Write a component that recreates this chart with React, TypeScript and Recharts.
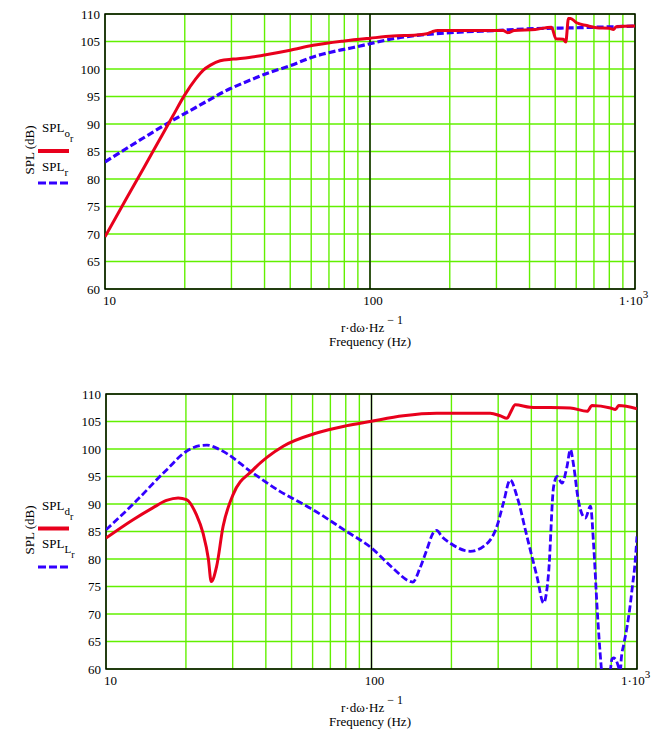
import React from 'react';
import {
  LineChart,
  Line,
  XAxis,
  YAxis,
  CartesianGrid,
  ReferenceLine,
  ReferenceArea,
  Legend,
} from 'recharts';

const SERIF = '"Liberation Serif", "DejaVu Serif", serif';
const RED = '#e8001c';
const BLUE = '#3300ff';
const GRID = '#62f000';

const FREQ_TICKS = [10, 20, 30, 40, 50, 60, 70, 80, 90, 100, 200, 300, 400, 500, 600, 700, 800, 900, 1000];
const SPL_TICKS = [60, 65, 70, 75, 80, 85, 90, 95, 100, 105, 110];

// top panel: SPL_o (red) and SPL_r (blue)
const splOFreq = [10, 12, 14, 16, 18, 20, 22, 23.5, 25, 27.2, 30.4, 35, 39.5, 50, 61, 80, 100, 122, 150, 164, 172, 180, 250, 318, 331, 350, 420, 484, 503, 536, 548, 561, 571, 602, 657, 716, 800, 829, 850, 1000];
const splOValues = [69.5, 76.3, 82.0, 87.0, 91.4, 95.3, 98.2, 99.8, 100.7, 101.5, 101.8, 102.1, 102.5, 103.4, 104.3, 105.1, 105.6, 106.0, 106.2, 106.4, 106.8, 107.0, 107.0, 107.0, 106.6, 107.0, 107.2, 107.6, 105.5, 105.4, 104.9, 109.2, 109.2, 108.4, 107.9, 107.5, 107.4, 107.2, 107.7, 107.8];

const splRFreq = [10, 12, 14, 17.6, 22, 29.6, 35, 40.8, 50, 61, 75, 86.5, 100, 122, 150, 218, 300, 390, 600, 1000];
const splRValues = [83.1, 85.5, 87.5, 90.4, 93.0, 96.4, 97.9, 99.2, 100.6, 102.2, 103.3, 103.9, 104.6, 105.5, 106.1, 106.7, 107.0, 107.3, 107.5, 107.8];

// bottom panel: SPL_d (red) and SPL_L (blue)
const splDFreq = [10, 12.6, 15, 16.9, 18.7, 20.1, 21.9, 23.2, 24.3, 24.9, 26.1, 27.6, 30.1, 35.8, 46.5, 62.1, 80, 98.7, 131.8, 176, 280, 305, 324, 335, 348, 396, 561, 649, 677, 795, 830, 853, 1000];
const splDValues = [83.8, 87.1, 89.3, 90.65, 91.1, 90.8, 88.05, 84.7, 80.0, 75.9, 78.65, 85.9, 91.7, 96.2, 100.5, 102.9, 104.2, 105.0, 106.05, 106.5, 106.5, 106.05, 105.6, 106.8, 108.05, 107.6, 107.45, 106.85, 107.9, 107.45, 107.2, 107.9, 107.3];

const splLFreq = [10, 12.6, 16.9, 20.1, 22.9, 24, 26.8, 35.8, 45.2, 53.7, 60, 79.4, 100, 120, 140, 143, 152.4, 161.6, 171, 176, 184, 197.7, 235.3, 264.3, 296.6, 314, 333, 353, 385, 420, 444.7, 464.5, 485.3, 500, 522, 545, 561, 578, 598, 612, 639, 668, 687, 707, 733, 745, 775, 794, 805, 815, 830, 861, 866, 872, 891, 918, 945, 964, 978, 1000];
const splLValues = [85.3, 89.9, 96.2, 99.6, 100.65, 100.7, 99.9, 95.6, 92.3, 90.3, 89.0, 85.2, 82.0, 78.4, 75.9, 75.8, 78.4, 81.7, 84.8, 85.2, 84.1, 82.9, 81.4, 82.3, 85.9, 90.2, 94.4, 91.4, 84.1, 76.8, 72.0, 77.45, 93.2, 95.0, 93.8, 96.8, 99.9, 96.8, 91.4, 89.0, 87.45, 89.6, 82.3, 71.4, 60.5, 57.0, 56.0, 59.8, 61.8, 62.0, 61.8, 59.8, 59.6, 61.7, 64.4, 67.75, 72.0, 75.6, 78.05, 84.1];

const toPoints = (freq: number[], values: number[]) => freq.map((f, i) => ({ f, spl: values[i] }));

const textStyle = { fontFamily: SERIF, fontSize: 13, fill: '#000' };

const FreqTick = (props: any) => {
  const { x, y, payload } = props;
  const v = payload.value;
  if (v === 10) return <text x={x - 2} y={y + 16} style={textStyle}>10</text>;
  if (v === 100) return <text x={x + 3} y={y + 16} textAnchor="middle" style={textStyle}>100</text>;
  if (v === 1000)
    return (
      <text x={x - 16} y={y + 16} style={textStyle}>
        1·10<tspan dy={-7} style={{ fontSize: 11 }}>3</tspan>
      </text>
    );
  return <g />;
};

const SplTick = (props: any) => {
  const { x, y, payload } = props;
  return (
    <text x={x} y={y + 4.5} textAnchor="end" style={textStyle}>
      {payload.value}
    </text>
  );
};

interface LegendItem {
  sub: string;
  subsub?: string;
  color: string;
  width: number;
  dash?: string;
  textY: number;
  lineY: number;
}

const SplLegend = ({ items }: { items: LegendItem[] }) => (
  <svg width={60} height={90} style={{ overflow: 'visible' }}>
    {items.map((it, i) => (
      <g key={i}>
        <text x={6} y={it.textY} style={textStyle}>
          SPL
          <tspan dy={5} style={{ fontSize: 11 }}>{it.sub}</tspan>
          {it.subsub && <tspan dy={5} style={{ fontSize: 10 }}>{it.subsub}</tspan>}
        </text>
        <line x1={2} x2={33} y1={it.lineY} y2={it.lineY} stroke={it.color} strokeWidth={it.width} strokeDasharray={it.dash} />
      </g>
    ))}
  </svg>
);

interface PanelProps {
  top: number;
  left: number;
  right: number;
  red: { f: number; spl: number }[];
  blue: { f: number; spl: number }[];
  legend: LegendItem[];
  blueWidth: number;
}

const Panel = ({ top, left, right, red, blue, legend, blueWidth }: PanelProps) => (
  <div style={{ position: 'absolute', left: 0, top, width: 667, height: 350 }}>
    <LineChart width={667} height={350} margin={{ top: 14, right, left: 0, bottom: 0 }}>
      <CartesianGrid stroke={GRID} strokeWidth={1.4} />
      <XAxis
        dataKey="f"
        type="number"
        scale="log"
        domain={[10, 1000]}
        ticks={FREQ_TICKS}
        allowDataOverflow
        height={61}
        tickSize={0}
        tickMargin={0}
        axisLine={false}
        tickLine={false}
        interval={0}
        tick={<FreqTick />}
      />
      <YAxis
        type="number"
        domain={[60, 110]}
        ticks={SPL_TICKS}
        allowDataOverflow
        width={left}
        tickSize={0}
        tickMargin={5}
        axisLine={false}
        tickLine={false}
        interval={0}
        tick={<SplTick />}
      />
      <ReferenceLine x={100} stroke="#000" strokeWidth={1.3} />
      <ReferenceArea x1={10} x2={1000} y1={60} y2={110} fill="none" stroke="#000" strokeWidth={1.5} />
      <Legend
        layout="vertical"
        align="center"
        verticalAlign="middle"
        wrapperStyle={{ position: 'absolute', left: 36, top: 115, width: 60, height: 90 }}
        content={() => <SplLegend items={legend} />}
      />
      <Line data={blue} dataKey="spl" type="monotone" stroke={BLUE} strokeWidth={blueWidth} strokeDasharray="7 3" dot={false} isAnimationActive={false} />
      <Line data={red} dataKey="spl" type="monotone" stroke={RED} strokeWidth={3} dot={false} isAnimationActive={false} />
    </LineChart>
    <svg width={667} height={350} style={{ position: 'absolute', left: 0, top: 0, pointerEvents: 'none' }}>
      <text x={34} y={150} transform="rotate(-90 34 150)" textAnchor="middle" style={textStyle}>
        SPL (dB)
      </text>
      <text x={372} y={332} textAnchor="middle" style={textStyle}>
        r·dω·Hz<tspan dy={-8} style={{ fontSize: 12 }}> − 1</tspan>
      </text>
      <text x={370} y={346} textAnchor="middle" style={textStyle}>
        Frequency (Hz)
      </text>
    </svg>
  </div>
);

export default function App() {
  return (
    <div style={{ position: 'absolute', left: 0, top: 0, width: 667, height: 738, background: '#fff' }}>
      <Panel
        top={0}
        left={105}
        right={32}
        red={toPoints(splOFreq, splOValues)}
        blue={toPoints(splRFreq, splRValues)}
        blueWidth={3.2}
        legend={[
          { sub: 'o', subsub: 'r', color: RED, width: 4, textY: 16.5, lineY: 36 },
          { sub: 'r', color: BLUE, width: 3, dash: '8 3', textY: 55.5, lineY: 68 },
        ]}
      />
      <Panel
        top={380}
        left={106}
        right={30}
        red={toPoints(splDFreq, splDValues)}
        blue={toPoints(splLFreq, splLValues)}
        blueWidth={2.8}
        legend={[
          { sub: 'd', subsub: 'r', color: RED, width: 4, textY: 15, lineY: 33.5 },
          { sub: 'L', subsub: 'r', color: BLUE, width: 3, dash: '8 3', textY: 53, lineY: 72 },
        ]}
      />
    </div>
  );
}
